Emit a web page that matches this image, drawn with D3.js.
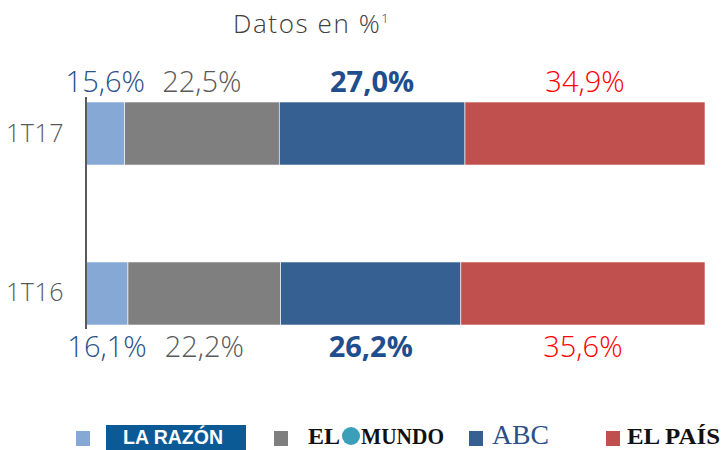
<!DOCTYPE html>
<meta charset="utf-8">
<style>
body { margin: 0; background: #fff; }
text { font-family: "Open Sans", "DejaVu Sans", sans-serif; }
.axis text { font-size: 25px; fill: #595959; font-weight: 300; letter-spacing: 0.5px; }
.axis path.domain { display: none; }
.lbl { font-size: 29px; font-weight: 300; }
</style>
<svg width="722" height="450"></svg>
<script src="https://cdn.jsdelivr.net/npm/d3@7"></script>
<script>

var periods = ["1T17", "1T16"];
var papers = ["laRazon", "elMundo", "abc", "elPais"];
var laRazon = [15.6, 16.1];
var elMundo = [22.5, 22.2];
var abc = [27.0, 26.2];
var elPais = [34.9, 35.6];

var colors = ["#86A8D4", "#7F7F7F", "#376092", "#C0504D"];
var labelColors = ["#2A5189", "#595959", "#1F4E8C", "#FF0000"];

var rows = periods.map(function(p, i) {
    return { period: p, laRazon: laRazon[i], elMundo: elMundo[i], abc: abc[i], elPais: elPais[i] };
});

var svg = d3.select("svg");

// the bars start at 10% on the axis, not at 0
var x = d3.scaleLinear()
    .domain([10, 100])
    .range([86, 705])
    .clamp(true);

var y = d3.scaleBand()
    .domain(periods)
    .range([102, 325])
    .paddingInner(0.606)
    .paddingOuter(0);

var series = d3.stack().keys(papers)(rows);

svg.append("text")
    .attr("x", 233)
    .attr("y", 33)
    .style("font-size", "26px")
    .style("font-weight", 300)
    .style("letter-spacing", "1.6px")
    .attr("fill", "#404040")
    .text("Datos en %")
    .append("tspan")
    .attr("dy", -10)
    .style("font-size", "13px")
    .text("1");

var layer = svg.selectAll(".serie")
    .data(series)
    .enter().append("g")
    .attr("class", "serie")
    .attr("fill", function(d, i) { return colors[i]; });

layer.selectAll("rect")
    .data(function(d) { return d; })
    .enter().append("rect")
    .attr("x", function(d) { return x(d[0]); })
    .attr("y", function(d) { return y(d.data.period); })
    .attr("width", function(d) { return x(d[1]) - x(d[0]); })
    .attr("height", y.bandwidth())
    .attr("stroke", "#fff")
    .attr("stroke-width", 0.6);

// value labels: above the top bar, under the bottom one
layer.selectAll("text")
    .data(function(d) { return d; })
    .enter().append("text")
    .attr("class", "lbl")
    .attr("text-anchor", "middle")
    .attr("x", function(d) { return (x(d[0]) + x(d[1])) / 2; })
    .attr("y", function(d, i) {
        return i == 0 ? y(d.data.period) - 10 : y(d.data.period) + y.bandwidth() + 32;
    })
    .attr("fill", function() { return labelColors[papers.indexOf(this.parentNode.__data__.key)]; })
    .style("font-weight", function() { return this.parentNode.__data__.key == "abc" ? 700 : 300; })
    .text(function(d) { return d3.format(".1f")(d[1] - d[0]).replace(".", ",") + "%"; });

var axis = svg.append("g")
    .attr("class", "axis")
    .attr("transform", "translate(86,0)")
    .call(d3.axisLeft(y).tickSize(0).tickPadding(22));

axis.append("line")
    .attr("x1", 0).attr("x2", 0)
    .attr("y1", y.range()[0] - 5)
    .attr("y2", y.range()[1] + 4)
    .attr("stroke", "#595959")
    .attr("stroke-width", 2);

// legend with the newspaper names
var legendX = [76, 274, 469, 606];
var legend = svg.selectAll(".legend")
    .data(papers)
    .enter().append("g")
    .attr("class", "legend")
    .attr("transform", function(d, i) { return "translate(" + legendX[i] + ",431)"; });

legend.append("rect")
    .attr("width", 14)
    .attr("height", 15)
    .attr("fill", function(d, i) { return colors[i]; });

var lr = legend.filter(function(d) { return d == "laRazon"; });
lr.append("rect")
    .attr("x", 30).attr("y", -6)
    .attr("width", 140).attr("height", 25)
    .attr("fill", "#0B5A96");
lr.append("text")
    .attr("x", 47).attr("y", 13)
    .attr("textLength", 100)
    .attr("lengthAdjust", "spacingAndGlyphs")
    .style("font-family", "'Liberation Sans Narrow', 'Liberation Sans', sans-serif")
    .style("font-size", "21px")
    .style("font-weight", 700)
    .attr("fill", "#fff")
    .text("LA RAZÓN");

var em = legend.filter(function(d) { return d == "elMundo"; });
em.append("text")
    .attr("x", 34).attr("y", 13)
    .attr("textLength", 32)
    .attr("lengthAdjust", "spacingAndGlyphs")
    .style("font-family", "'Liberation Serif', serif")
    .style("font-size", "23px")
    .style("font-weight", 700)
    .attr("fill", "#111")
    .text("EL");
em.append("circle")
    .attr("cx", 77).attr("cy", 5)
    .attr("r", 9)
    .attr("fill", "#3A9FB8");
em.append("text")
    .attr("x", 87).attr("y", 13)
    .attr("textLength", 83)
    .attr("lengthAdjust", "spacingAndGlyphs")
    .style("font-family", "'Liberation Serif', serif")
    .style("font-size", "23px")
    .style("font-weight", 700)
    .attr("fill", "#111")
    .text("MUNDO");

legend.filter(function(d) { return d == "abc"; })
    .append("text")
    .attr("x", 23).attr("y", 13)
    .attr("textLength", 57)
    .attr("lengthAdjust", "spacingAndGlyphs")
    .style("font-family", "'Liberation Serif', serif")
    .style("font-size", "27px")
    .attr("fill", "#2B4F88")
    .text("ABC");

legend.filter(function(d) { return d == "elPais"; })
    .append("text")
    .attr("x", 21).attr("y", 13)
    .attr("textLength", 93)
    .attr("lengthAdjust", "spacingAndGlyphs")
    .style("font-family", "'Liberation Serif', serif")
    .style("font-size", "24px")
    .style("font-weight", 700)
    .attr("fill", "#111")
    .text("EL PAÍS");

</script>
